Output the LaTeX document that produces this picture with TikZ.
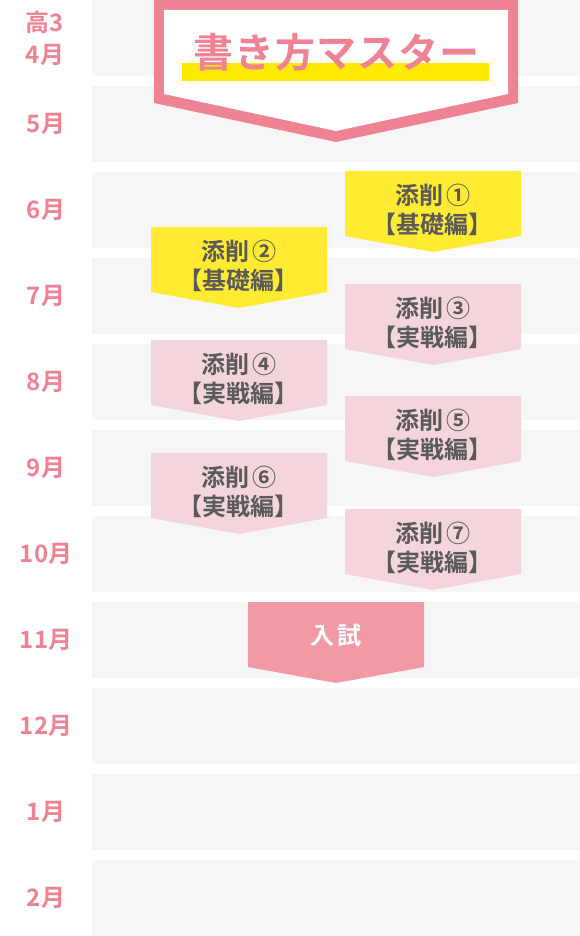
\documentclass[tikz,border=0pt]{standalone}
\usepackage{fontspec}
\newfontfamily\jp{Noto Sans CJK JP}[BoldFont={* Bold}]
\definecolor{mpink}{RGB}{239,131,147}
\definecolor{hlyellow}{RGB}{255,234,0}
\definecolor{byellow}{RGB}{255,236,50}
\definecolor{lpink}{RGB}{243,213,219}
\definecolor{epink}{RGB}{241,154,166}
\definecolor{band}{RGB}{246,246,246}
\definecolor{tgray}{RGB}{90,90,90}
\tikzset{
  monthlbl/.style={font=\jp\bfseries\fontsize{24}{24}\selectfont, text=mpink, inner sep=0pt},
  boxtxt/.style={font=\jp\bfseries\fontsize{24}{24}\selectfont, text=tgray, inner sep=0pt},
  bandbox/.style={fill=band, draw=none},
}
\begin{document}
\begin{tikzpicture}[x=1pt,y=-1pt]
\useasboundingbox (0,0) rectangle (580,936);
\fill[white] (0,0) rectangle (580,936);
% bands
\foreach \i in {0,...,10}{
  \fill[band] (92,{86*\i}) rectangle (580,{86*\i+76});
}
% month labels
\node[monthlbl] (kou3) at (45,22) {高3};
\node[monthlbl] (m4) at (45,55) {4月};
\node[monthlbl] (m5) at (46,124) {5月};
\node[monthlbl] (m6) at (46,210) {6月};
\node[monthlbl] (m7) at (46,296) {7月};
\node[monthlbl] (m8) at (46,382) {8月};
\node[monthlbl] (m9) at (46,468) {9月};
\node[monthlbl] (m10) at (46,554) {10月};
\node[monthlbl] (m11) at (46,640) {11月};
\node[monthlbl] (m12) at (46,726) {12月};
\node[monthlbl] (m1) at (46,812) {1月};
\node[monthlbl] (m2) at (46,898) {2月};
% banner
\fill[mpink] (154,0) -- (518,0) -- (518,103) -- (336,142) -- (154,103) -- cycle;
\fill[white] (164,10) -- (508,10) -- (508,94) -- (336,131) -- (164,94) -- cycle;
\fill[hlyellow] (182,63) rectangle (489,81);
\node[font=\jp\bfseries\fontsize{40}{40}\selectfont, text=mpink, inner sep=0pt] (title) at (336,52) {書\hspace{1pt}き\hspace{1pt}方\hspace{1pt}マ\hspace{1pt}ス\hspace{1pt}タ\hspace{1pt}ー};
% arrow boxes
\newcommand{\arrowbox}[6]{% name, x0, top, color, line1, line2
  \fill[#4] (#2,#3) -- ({#2+176},#3) -- ({#2+176},{#3+65}) -- ({#2+88},{#3+81}) -- (#2,{#3+65}) -- cycle;
  \node[boxtxt] (#1a) at ({#2+88},{#3+24}) {#5};
  \node[boxtxt] (#1b) at ({#2+87},{#3+53}) {#6};
}
\arrowbox{s1}{345}{171}{byellow}{添\hspace{1pt}削\hspace{3pt}①}{【基礎編】}
\arrowbox{s2}{151}{227}{byellow}{添\hspace{1pt}削\hspace{3pt}②}{【基礎編】}
\arrowbox{s3}{345}{284}{lpink}{添\hspace{1pt}削\hspace{3pt}③}{【実戦編】}
\arrowbox{s4}{151}{340}{lpink}{添\hspace{1pt}削\hspace{3pt}④}{【実戦編】}
\arrowbox{s5}{345}{396}{lpink}{添\hspace{1pt}削\hspace{3pt}⑤}{【実戦編】}
\arrowbox{s6}{151}{453}{lpink}{添\hspace{1pt}削\hspace{3pt}⑥}{【実戦編】}
\arrowbox{s7}{345}{509}{lpink}{添\hspace{1pt}削\hspace{3pt}⑦}{【実戦編】}
% exam
\fill[epink] (248,602) -- (424,602) -- (424,667) -- (336,683) -- (248,667) -- cycle;
\node[font=\jp\bfseries\fontsize{24}{24}\selectfont, text=white, inner sep=0pt] (exam) at (336,635) {入\hspace{3pt}試};
\end{tikzpicture}
\end{document}
